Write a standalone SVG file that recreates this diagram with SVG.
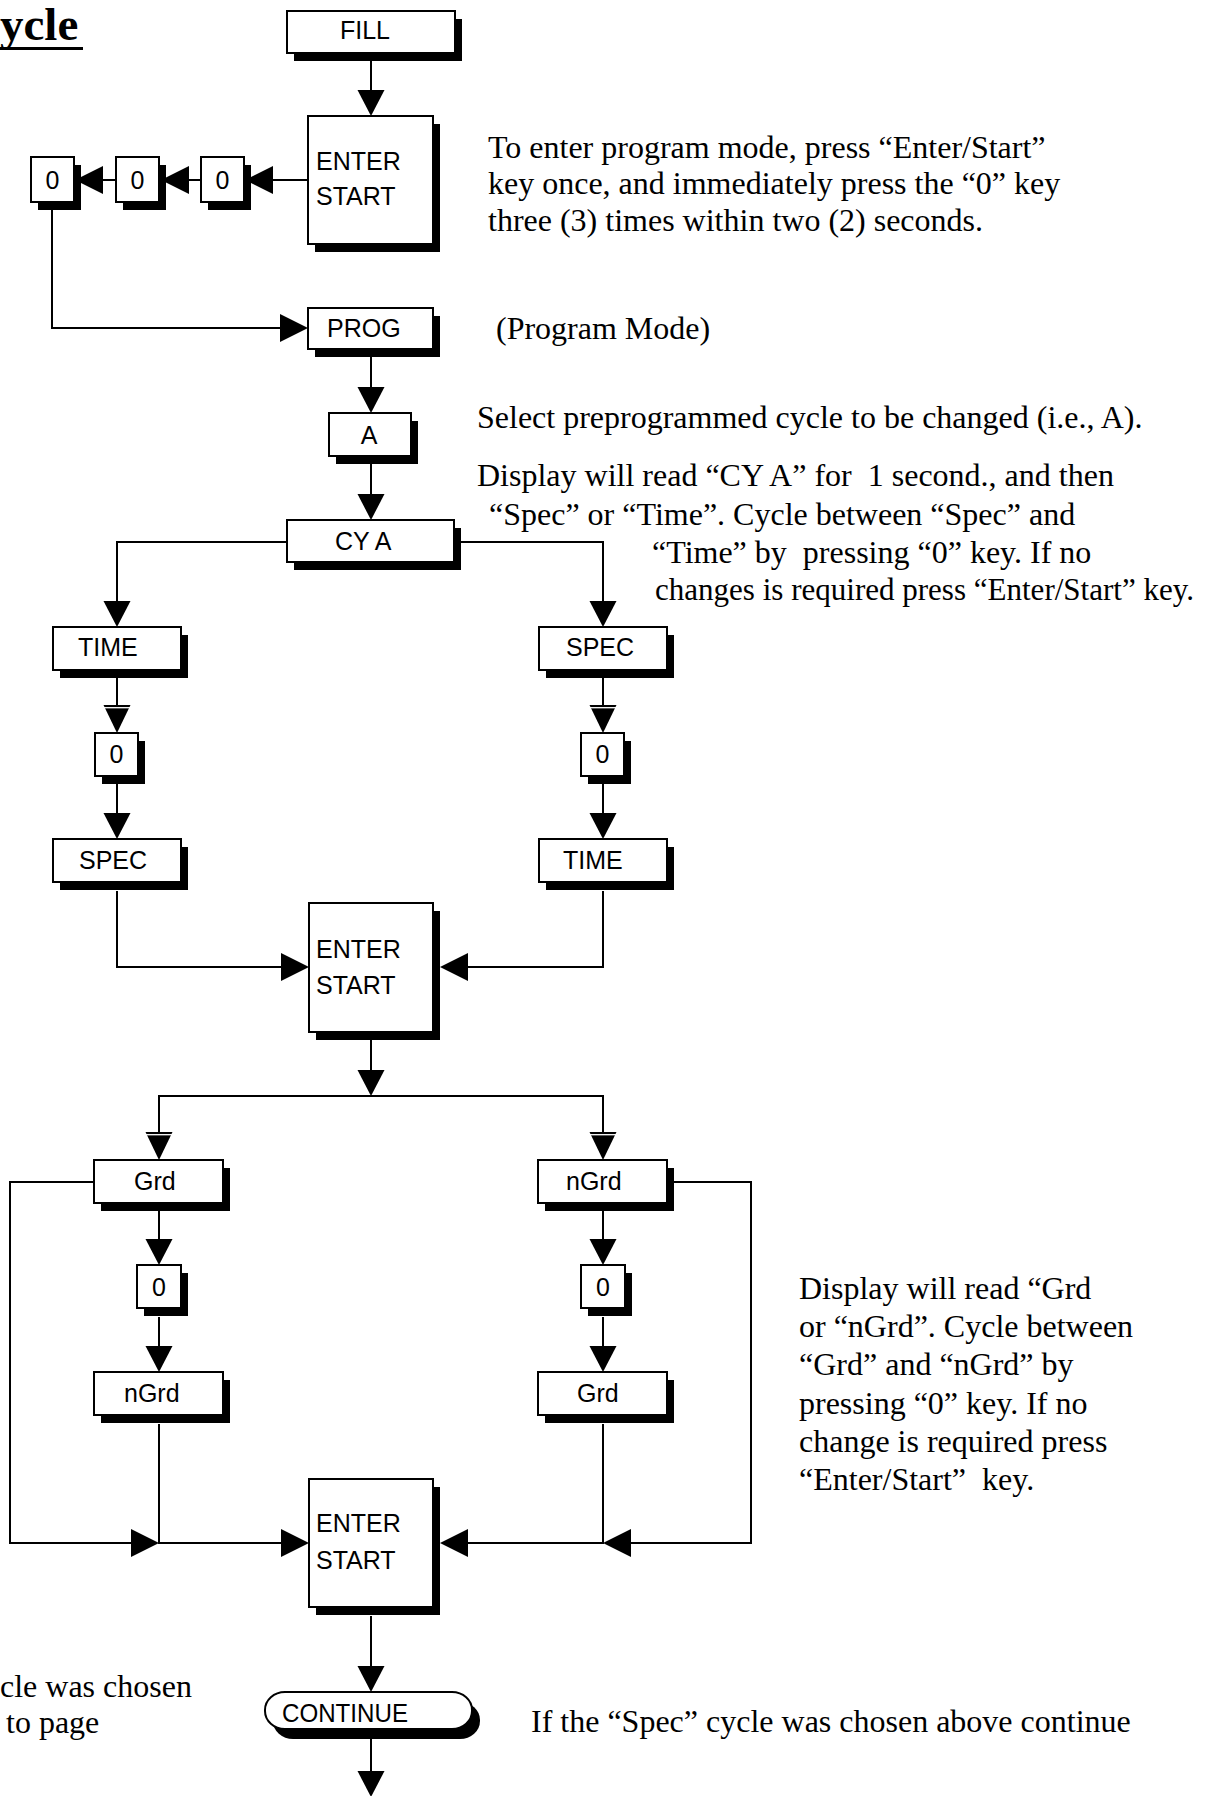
<svg xmlns="http://www.w3.org/2000/svg" xmlns:xlink="http://www.w3.org/1999/xlink" width="1216" height="1796" viewBox="0 0 1216 1796">
  <style>
    .bg { fill: #ffffff; }
    .shadow { fill: #000000; }
    .box { fill: #ffffff; stroke: #000000; stroke-width: 2; }
    .lbl { font-family: "Liberation Sans", Arial, sans-serif; font-size: 25px; fill: #000000; }
    .mid { text-anchor: middle; }
    .note { font-family: "Liberation Serif", "Times New Roman", serif; font-size: 32px; fill: #000000; white-space: pre; }
    .title { font-family: "Liberation Serif", "Times New Roman", serif; font-size: 47px; font-weight: bold; fill: #000000; }
    .wire { fill: none; stroke: #000000; stroke-width: 2; }
    .head { fill: #000000; }
  </style>
  <defs>
    <!-- arrowheads, tip at the origin -->
    <polygon id="headDown" class="head" points="-13.5,-26 13.5,-26 0,0"/>
    <polygon id="headRight" class="head" points="-28,-14 -28,14 0,0"/>
    <polygon id="headLeft" class="head" points="28,-14 28,14 0,0"/>
    <g id="headDownDbl">
      <polygon class="head" points="-13.5,-28 13.5,-28 0,0"/>
      <line x1="-14" y1="-25.3" x2="14" y2="-25.3" stroke="#ffffff" stroke-width="1.3"/>
    </g>
  </defs>

  <rect class="bg" x="0" y="0" width="1216" height="1796"/>

  <!-- heading -->
  <g id="heading">
    <text class="title" x="0" y="40">ycle</text>
    <rect x="0" y="47" width="83" height="3"/>
  </g>

  <!-- connectors -->
  <g id="connectors">
    <line class="wire" x1="371" y1="61" x2="371" y2="92"/>
    <use xlink:href="#headDown" x="371" y="116"/>

    <line class="wire" x1="308" y1="180" x2="270" y2="180"/>
    <use xlink:href="#headLeft" x="245" y="180"/>
    <line class="wire" x1="201" y1="180" x2="186" y2="180"/>
    <use xlink:href="#headLeft" x="161" y="180"/>
    <line class="wire" x1="116" y1="180" x2="101" y2="180"/>
    <use xlink:href="#headLeft" x="75" y="180"/>

    <path class="wire" d="M52,208 V328 H282"/>
    <use xlink:href="#headRight" x="308" y="328"/>

    <line class="wire" x1="371" y1="357" x2="371" y2="389"/>
    <use xlink:href="#headDown" x="371" y="413"/>
    <line class="wire" x1="371" y1="464" x2="371" y2="496"/>
    <use xlink:href="#headDown" x="371" y="520"/>

    <path class="wire" d="M287,542 H117 V603"/>
    <use xlink:href="#headDown" x="117" y="627"/>
    <path class="wire" d="M454,542 H603 V603"/>
    <use xlink:href="#headDown" x="603" y="627"/>

    <line class="wire" x1="117" y1="678" x2="117" y2="707"/>
    <use xlink:href="#headDownDbl" x="117" y="733"/>
    <line class="wire" x1="603" y1="678" x2="603" y2="707"/>
    <use xlink:href="#headDownDbl" x="603" y="733"/>

    <line class="wire" x1="117" y1="784" x2="117" y2="815"/>
    <use xlink:href="#headDown" x="117" y="839"/>
    <line class="wire" x1="603" y1="784" x2="603" y2="815"/>
    <use xlink:href="#headDown" x="603" y="839"/>

    <path class="wire" d="M117,891 V967 H283"/>
    <use xlink:href="#headRight" x="309" y="967"/>
    <path class="wire" d="M603,891 V967 H466"/>
    <use xlink:href="#headLeft" x="440" y="967"/>

    <line class="wire" x1="371" y1="1040" x2="371" y2="1072"/>
    <use xlink:href="#headDown" x="371" y="1096"/>
    <path class="wire" d="M159,1134 V1096 H603 V1134"/>
    <use xlink:href="#headDownDbl" x="159" y="1160"/>
    <use xlink:href="#headDownDbl" x="603" y="1160"/>

    <line class="wire" x1="159" y1="1211" x2="159" y2="1241"/>
    <use xlink:href="#headDown" x="159" y="1265"/>
    <line class="wire" x1="603" y1="1211" x2="603" y2="1241"/>
    <use xlink:href="#headDown" x="603" y="1265"/>

    <line class="wire" x1="159" y1="1317" x2="159" y2="1348"/>
    <use xlink:href="#headDown" x="159" y="1372"/>
    <line class="wire" x1="603" y1="1317" x2="603" y2="1348"/>
    <use xlink:href="#headDown" x="603" y="1372"/>

    <path class="wire" d="M94,1182 H10 V1543 H134"/>
    <use xlink:href="#headRight" x="159" y="1543"/>
    <path class="wire" d="M159,1424 V1543 H283"/>
    <use xlink:href="#headRight" x="309" y="1543"/>
    <path class="wire" d="M673,1182 H751 V1543 H628"/>
    <use xlink:href="#headLeft" x="603" y="1543"/>
    <path class="wire" d="M603,1424 V1543 H466"/>
    <use xlink:href="#headLeft" x="440" y="1543"/>

    <line class="wire" x1="371" y1="1616" x2="371" y2="1668"/>
    <use xlink:href="#headDown" x="371" y="1692"/>
    <line class="wire" x1="371" y1="1739" x2="371" y2="1773"/>
    <use xlink:href="#headDown" x="371" y="1797"/>
  </g>

  <!-- nodes -->
  <g id="fill">
    <rect class="shadow" x="294" y="19" width="168" height="42"/>
    <rect class="box" x="287" y="11" width="168" height="42"/>
    <text class="lbl" x="340" y="39">FILL</text>
  </g>

  <g id="enter1">
    <rect class="shadow" x="315" y="124" width="125" height="128"/>
    <rect class="box" x="308" y="116" width="125" height="128"/>
    <text class="lbl" x="316" y="170">ENTER</text>
    <text class="lbl" x="316" y="205">START</text>
  </g>

  <g id="zero3">
    <rect class="shadow" x="208" y="165" width="43" height="45"/>
    <rect class="box" x="201" y="157" width="43" height="45"/>
    <text class="lbl mid" x="222.5" y="189">0</text>
  </g>
  <g id="zero2">
    <rect class="shadow" x="123" y="165" width="43" height="45"/>
    <rect class="box" x="116" y="157" width="43" height="45"/>
    <text class="lbl mid" x="137.5" y="189">0</text>
  </g>
  <g id="zero1">
    <rect class="shadow" x="38" y="165" width="43" height="45"/>
    <rect class="box" x="31" y="157" width="43" height="45"/>
    <text class="lbl mid" x="52.5" y="189">0</text>
  </g>

  <g id="prog">
    <rect class="shadow" x="315" y="316" width="125" height="41"/>
    <rect class="box" x="308" y="308" width="125" height="41"/>
    <text class="lbl" x="327" y="337">PROG</text>
  </g>

  <g id="cycleA">
    <rect class="shadow" x="336" y="421" width="82" height="43"/>
    <rect class="box" x="329" y="413" width="82" height="43"/>
    <text class="lbl mid" x="369" y="444">A</text>
  </g>

  <g id="cyA">
    <rect class="shadow" x="294" y="528" width="167" height="42"/>
    <rect class="box" x="287" y="520" width="167" height="42"/>
    <text class="lbl" x="335" y="550">CY A</text>
  </g>

  <g id="time1">
    <rect class="shadow" x="60" y="635" width="128" height="43"/>
    <rect class="box" x="53" y="627" width="128" height="43"/>
    <text class="lbl" x="78" y="656">TIME</text>
  </g>
  <g id="spec1">
    <rect class="shadow" x="546" y="635" width="128" height="43"/>
    <rect class="box" x="539" y="627" width="128" height="43"/>
    <text class="lbl" x="566" y="656">SPEC</text>
  </g>

  <g id="zeroTime">
    <rect class="shadow" x="102" y="741" width="43" height="43"/>
    <rect class="box" x="95" y="733" width="43" height="43"/>
    <text class="lbl mid" x="116.5" y="763">0</text>
  </g>
  <g id="zeroSpec">
    <rect class="shadow" x="588" y="741" width="43" height="43"/>
    <rect class="box" x="581" y="733" width="43" height="43"/>
    <text class="lbl mid" x="602.5" y="763">0</text>
  </g>

  <g id="spec2">
    <rect class="shadow" x="60" y="847" width="128" height="43"/>
    <rect class="box" x="53" y="839" width="128" height="43"/>
    <text class="lbl" x="79" y="869">SPEC</text>
  </g>
  <g id="time2">
    <rect class="shadow" x="546" y="847" width="128" height="43"/>
    <rect class="box" x="539" y="839" width="128" height="43"/>
    <text class="lbl" x="563" y="869">TIME</text>
  </g>

  <g id="enter2">
    <rect class="shadow" x="316" y="911" width="124" height="129"/>
    <rect class="box" x="309" y="903" width="124" height="129"/>
    <text class="lbl" x="316" y="958">ENTER</text>
    <text class="lbl" x="316" y="994">START</text>
  </g>

  <g id="grd1">
    <rect class="shadow" x="101" y="1168" width="129" height="43"/>
    <rect class="box" x="94" y="1160" width="129" height="43"/>
    <text class="lbl" x="134" y="1190">Grd</text>
  </g>
  <g id="ngrd1">
    <rect class="shadow" x="545" y="1168" width="129" height="43"/>
    <rect class="box" x="538" y="1160" width="129" height="43"/>
    <text class="lbl" x="566" y="1190">nGrd</text>
  </g>

  <g id="zeroGrd">
    <rect class="shadow" x="144" y="1273" width="44" height="43"/>
    <rect class="box" x="137" y="1265" width="44" height="43"/>
    <text class="lbl mid" x="159" y="1296">0</text>
  </g>
  <g id="zeroNgrd">
    <rect class="shadow" x="588" y="1273" width="44" height="43"/>
    <rect class="box" x="581" y="1265" width="44" height="43"/>
    <text class="lbl mid" x="603" y="1296">0</text>
  </g>

  <g id="ngrd2">
    <rect class="shadow" x="101" y="1380" width="129" height="43"/>
    <rect class="box" x="94" y="1372" width="129" height="43"/>
    <text class="lbl" x="124" y="1402">nGrd</text>
  </g>
  <g id="grd2">
    <rect class="shadow" x="545" y="1380" width="129" height="43"/>
    <rect class="box" x="538" y="1372" width="129" height="43"/>
    <text class="lbl" x="577" y="1402">Grd</text>
  </g>

  <g id="enter3">
    <rect class="shadow" x="316" y="1487" width="124" height="128"/>
    <rect class="box" x="309" y="1479" width="124" height="128"/>
    <text class="lbl" x="316" y="1532">ENTER</text>
    <text class="lbl" x="316" y="1569">START</text>
  </g>

  <g id="continue">
    <rect class="shadow" x="273" y="1702" width="207" height="37" rx="20" ry="18"/>
    <rect class="box" x="265" y="1692" width="207" height="37" rx="20" ry="18"/>
    <text class="lbl" x="282" y="1722" textLength="126" lengthAdjust="spacingAndGlyphs">CONTINUE</text>
  </g>

  <!-- side notes -->
  <g id="notes">
    <text class="note" x="488" y="158">To enter program mode, press “Enter/Start”</text>
    <text class="note" x="488" y="194">key once, and immediately press the “0” key</text>
    <text class="note" x="488" y="231">three (3) times within two (2) seconds.</text>
    <text class="note" x="496" y="339">(Program Mode)</text>
    <text class="note" x="477" y="428">Select preprogrammed cycle to be changed (i.e., A).</text>
    <text class="note" x="477" y="486">Display will read “CY A” for  1 second., and then</text>
    <text class="note" x="489" y="525">“Spec” or “Time”. Cycle between “Spec” and</text>
    <text class="note" x="652" y="563">“Time” by  pressing “0” key. If no</text>
    <text class="note" x="655" y="600" textLength="539" lengthAdjust="spacingAndGlyphs">changes is required press “Enter/Start” key.</text>
    <text class="note" x="799" y="1299">Display will read “Grd</text>
    <text class="note" x="799" y="1337">or “nGrd”. Cycle between</text>
    <text class="note" x="799" y="1375">“Grd” and “nGrd” by</text>
    <text class="note" x="799" y="1414">pressing “0” key. If no</text>
    <text class="note" x="799" y="1452">change is required press</text>
    <text class="note" x="799" y="1490">“Enter/Start”  key.</text>
    <text class="note" x="0" y="1697">cle was chosen</text>
    <text class="note" x="6" y="1733">to page</text>
    <text class="note" x="531" y="1732">If the “Spec” cycle was chosen above continue</text>
  </g>
</svg>
